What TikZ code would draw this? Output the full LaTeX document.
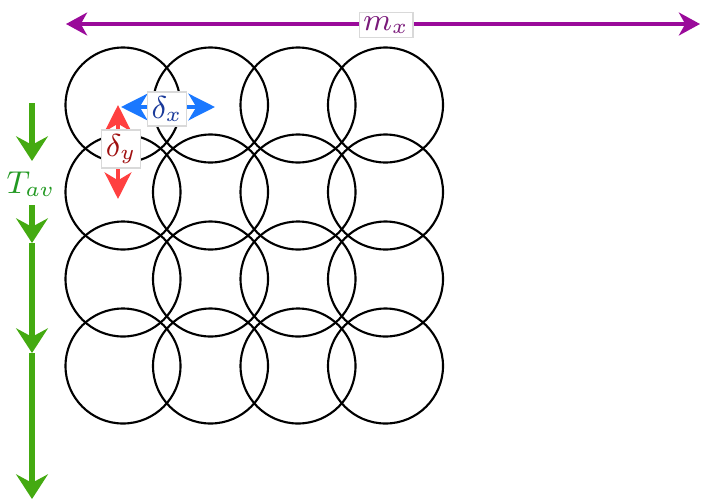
\documentclass[tikz,border=0pt]{standalone}
\usepackage{amsmath}
\usepackage{xcolor}
\usetikzlibrary{arrows.meta}
\definecolor{mxarrow}{HTML}{9A0A9A}
\definecolor{mxtext}{HTML}{7A1A7A}
\definecolor{tarrow}{HTML}{44AA11}
\definecolor{ttext}{HTML}{229922}
\definecolor{dxarrow}{HTML}{1A78FF}
\definecolor{dxtext}{HTML}{1A3A9A}
\definecolor{dyarrow}{HTML}{FF4040}
\definecolor{dytext}{HTML}{A01010}
\tikzset{
  lblbox/.style={draw=gray!30,fill=white,inner sep=1.2pt,line width=0.4pt,font=\small},
  mxline/.style={draw=mxarrow,line width=1.2pt,{Stealth[length=6pt,width=6.5pt,inset=1.8pt]}-{Stealth[length=6pt,width=6.5pt,inset=1.8pt]}},
  tline/.style={draw=tarrow,line width=1.8pt,-{Stealth[length=7pt,width=9pt,inset=2.4pt]}},
  dline/.style={line width=1.4pt,{Stealth[length=7.5pt,width=7.5pt,inset=2.2pt]}-{Stealth[length=7.5pt,width=7.5pt,inset=2.2pt]}},
}
\begin{document}
\begin{tikzpicture}[x=0.01cm,y=-0.01cm]
  \useasboundingbox (0,0) rectangle (701,500);
  % ---- grid of overlapping discs ----
  \foreach \i in {0,...,3}{
    \foreach \j in {0,...,3}{
      \draw[line width=0.6pt] ({123+87.5*\i},{105+87*\j}) circle (57.5);
    }
  }
  % ---- m_x across the top ----
  \coordinate (mL) at (66,24);
  \coordinate (mR) at (700,24);
  \draw[mxline] (mL) -- (mR);
  \node[lblbox,text=mxtext] (mx) at (386,25) {$m_x$};
  % ---- T_av down the left side ----
  \coordinate (t0) at (32,103);
  \coordinate (t1) at (32,161);
  \node[text=ttext,font=\small] (Tav) at (31,184) {$T_{av}$};
  \coordinate (t2) at (32,205);
  \coordinate (t3) at (32,243);
  \coordinate (t4) at (32,353);
  \coordinate (t5) at (32,499);
  \draw[tline] (t0) -- (t1);
  \draw[tline] (t2) -- (t3);
  \draw[tline] (t3) -- (t4);
  \draw[tline] (t4) -- (t5);
  % ---- spacings between discs ----
  \coordinate (dxL) at (121,107);
  \coordinate (dxR) at (215,107);
  \draw[dline,draw=dxarrow,dxarrow] (dxL) -- (dxR);
  \node[lblbox,text=dxtext] (dx) at (167,109) {$\delta_x$};
  \coordinate (dyT) at (118,105);
  \coordinate (dyB) at (118,199);
  \draw[dline,draw=dyarrow,dyarrow] (dyT) -- (dyB);
  \node[lblbox,text=dytext] (dy) at (121,149) {$\delta_y$};
\end{tikzpicture}
\end{document}
